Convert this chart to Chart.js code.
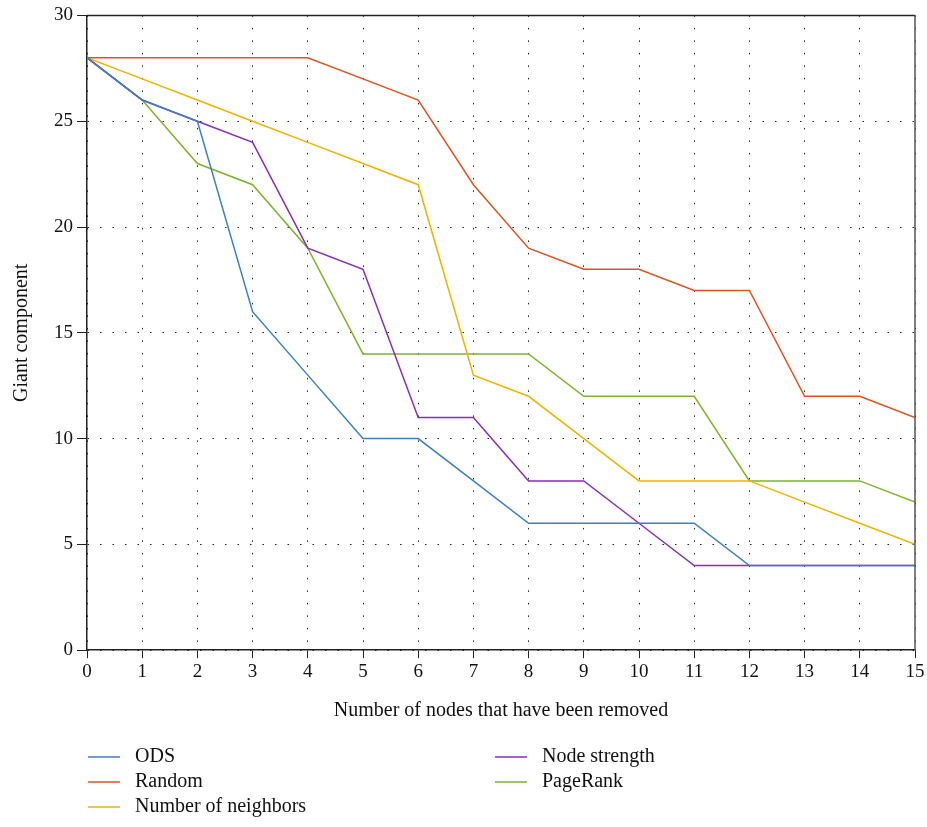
<!DOCTYPE html>
<html>
<head>
<meta charset="utf-8">
<script src="https://cdn.jsdelivr.net/npm/chart.js@4.4.1/dist/chart.umd.min.js"></script>
<style>
  html, body { margin: 0; padding: 0; background: #fff; }
  #wrap { width: 927px; height: 827px; }
</style>
</head>
<body>
<div id="wrap"><canvas id="giantChart" width="927" height="827"></canvas></div>
<script>
// datos
const removed = [0, 1, 2, 3, 4, 5, 6, 7, 8, 9, 10, 11, 12, 13, 14, 15];
const ods = [28, 26, 25, 16, 13, 10, 10, 8, 6, 6, 6, 6, 4, 4, 4, 4];
const randomOrder = [28, 28, 28, 28, 28, 27, 26, 22, 19, 18, 18, 17, 17, 12, 12, 11];
const neighbors = [28, 27, 26, 25, 24, 23, 22, 13, 12, 10, 8, 8, 8, 7, 6, 5];
const nodeStrength = [28, 26, 25, 24, 19, 18, 11, 11, 8, 8, 6, 4, 4, 4, 4, 4];
const pageRank = [28, 26, 23, 22, 19, 14, 14, 14, 14, 12, 12, 12, 8, 8, 8, 7];

const serif = '"Liberation Serif", "DejaVu Serif", serif';

function serie(label, values, color) {
    return {
        label: label,
        data: values.map((v, i) => ({ x: removed[i], y: v })),
        borderColor: color,
        backgroundColor: color,
        borderWidth: 1.5,
        pointRadius: 0,
        tension: 0
    };
}

// caja alrededor del area y leyenda en dos columnas
const boxAndLegend = {
    id: 'boxAndLegend',
    afterDraw(chart) {
        const ctx = chart.ctx;
        const a = chart.chartArea;
        ctx.save();
        ctx.strokeStyle = '#222';
        ctx.lineWidth = 1.5;
        ctx.beginPath();
        ctx.moveTo(a.left, a.top);
        ctx.lineTo(a.right, a.top);
        ctx.stroke();
        ctx.strokeStyle = '#555';
        ctx.beginPath();
        ctx.moveTo(a.right, a.top);
        ctx.lineTo(a.right, a.bottom);
        ctx.stroke();

        const cols = [[0, 1, 2], [3, 4]];
        const colX = [88, 495];
        ctx.font = '20px ' + serif;
        ctx.textBaseline = 'middle';
        ctx.fillStyle = '#111';
        cols.forEach((idx, c) => {
            idx.forEach((d, r) => {
                const ds = chart.data.datasets[d];
                const y = 757 + r * 25;
                ctx.strokeStyle = ds.borderColor;
                ctx.lineWidth = 1.5;
                ctx.beginPath();
                ctx.moveTo(colX[c], y);
                ctx.lineTo(colX[c] + 32, y);
                ctx.stroke();
                ctx.fillText(ds.label, colX[c] + 47, y);
            });
        });
        ctx.restore();
    }
};

const ctx = document.getElementById('giantChart').getContext('2d');
new Chart(ctx, {
    type: 'line',
    data: {
        datasets: [
            serie('ODS', ods, '#3b7fc4'),
            serie('Random', randomOrder, '#e0521f'),
            serie('Number of neighbors', neighbors, '#f2b200'),
            serie('Node strength', nodeStrength, '#8b2db3'),
            serie('PageRank', pageRank, '#7db52a')
        ]
    },
    options: {
        responsive: false,
        animation: false,
        layout: { padding: { top: 15, right: 12, bottom: 100, left: 6 } },
        plugins: {
            legend: { display: false },
            tooltip: { enabled: false }
        },
        scales: {
            x: {
                type: 'linear',
                min: 0,
                max: 15,
                ticks: { stepSize: 1, color: '#111', font: { family: serif, size: 19 }, padding: 2 },
                grid: { color: '#222', lineWidth: 1, tickColor: '#222', tickLength: 8 },
                border: { display: true, color: '#222', width: 1.5, dash: [1.5, 11] },
                title: {
                    display: true,
                    text: 'Number of nodes that have been removed',
                    color: '#111',
                    font: { family: serif, size: 20 },
                    padding: { top: 14 }
                }
            },
            y: {
                min: 0,
                max: 30,
                ticks: { stepSize: 5, color: '#111', font: { family: serif, size: 19 }, padding: 4 },
                grid: { color: '#222', lineWidth: 1, tickColor: '#222', tickLength: 10 },
                border: { display: true, color: '#222', width: 1.5, dash: [1.5, 11] },
                title: {
                    display: true,
                    text: 'Giant component',
                    color: '#111',
                    font: { family: serif, size: 20 },
                    padding: { bottom: 16 }
                }
            }
        }
    },
    plugins: [boxAndLegend]
});
</script>
</body>
</html>
